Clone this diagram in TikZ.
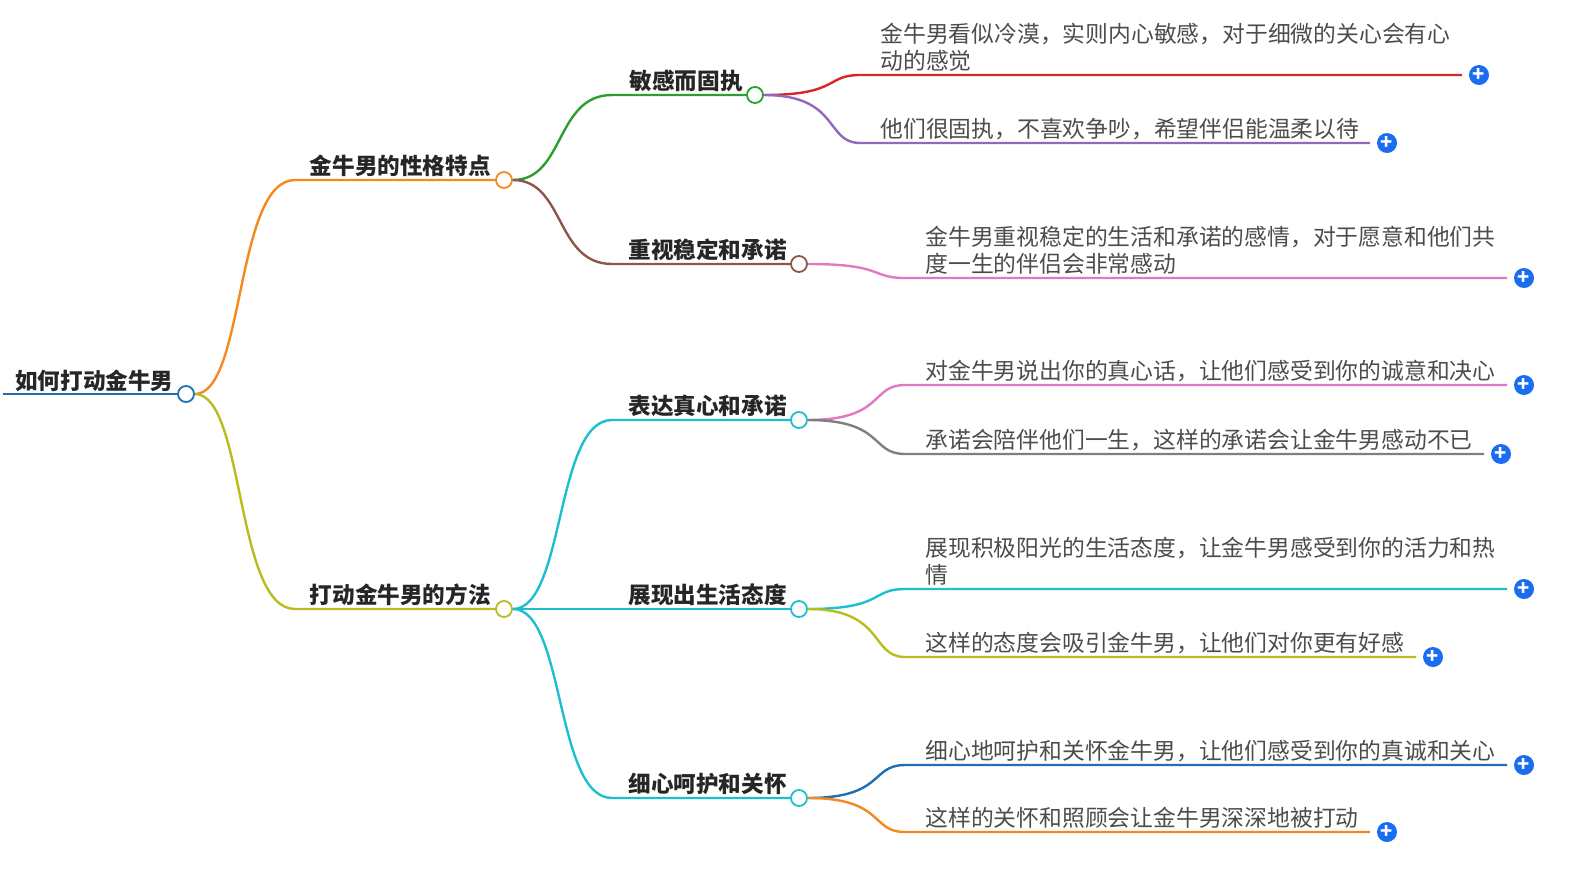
\documentclass[tikz,border=0pt]{standalone}
\usepackage{fontspec}
\setmainfont{Noto Sans CJK SC}
\definecolor{cRoot}{HTML}{1F6FB2}
\definecolor{cOrange}{HTML}{F5891F}
\definecolor{cOlive}{HTML}{B8BC1E}
\definecolor{cGreen}{HTML}{2CA02C}
\definecolor{cBrown}{HTML}{8C564B}
\definecolor{cCyan}{HTML}{1FBECF}
\definecolor{cRed}{HTML}{D62728}
\definecolor{cPurple}{HTML}{9467BD}
\definecolor{cPink}{HTML}{E377C2}
\definecolor{cGray}{HTML}{7F7F7F}
\definecolor{cPlus}{HTML}{1A6CF0}
\begin{document}
\begin{tikzpicture}[
	x=0.5pt, y=-0.5pt,
	branch/.style = {line width=1.2pt},
	knot/.style = {circle, draw, fill=white, line width=0.9pt, minimum size=8pt, inner sep=0pt},
	topic/.style = {font=\bfseries\fontsize{11.3}{13}\selectfont, text=black!85, inner sep=0pt, anchor=south east},
	leaf/.style = {font=\fontsize{11.4}{13.5}\selectfont, text=black!70, inner sep=0pt, anchor=south west, align=left},
	plus/.style = {circle, fill=cPlus, minimum size=10pt, inner sep=0pt, text=white, font=\bfseries\fontsize{10}{10}\selectfont},
]
	\useasboundingbox (0,0) rectangle (1584,868);

	% root
	\node (root) [knot, draw=cRoot] at (186,394) {};
	\coordinate (rootL) at (3,394);
	\node (rootT) [topic, anchor=south west] at (15,392) {如何打动金牛男};
	\draw[branch, cRoot] (rootL) -- (root);

	% first level
	\node (traits) [knot, draw=cOrange] at (504,180) {};
	\coordinate (traitsL) at (295,180);
	\node (traitsT) [topic] at (491,177) {金牛男的性格特点};
	\draw[branch, cOrange] (root) .. controls (245,394) and (235,180) .. (traitsL) -- (traits);

	\node (ways) [knot, draw=cOlive] at (504,609) {};
	\coordinate (waysL) at (295,609);
	\node (waysT) [topic] at (491,606) {打动金牛男的方法};
	\draw[branch, cOlive] (root) .. controls (245,394) and (235,609) .. (waysL) -- (ways);

	% second level
	\newcommand\topicnode[6]{%
		\node (#1) [knot, draw=#3] at (#4,#5) {};
		\coordinate (#1L) at (612,#5);
		\node (#1T) [topic] at (\numexpr#4-12\relax,\numexpr#5-3\relax) {#6};
		\draw[branch, #3] (#2) .. controls (565,\getY{#2}) and (555,#5) .. (#1L) -- (#1);
	}
	\def\getY#1{\csname y@#1\endcsname}
	\expandafter\def\csname y@traits\endcsname{180}
	\expandafter\def\csname y@ways\endcsname{609}

	\topicnode{sens}{traits}{cGreen}{755}{95}{敏感而固执}
	\topicnode{stab}{traits}{cBrown}{799}{264}{重视稳定和承诺}
	\topicnode{heart}{ways}{cCyan}{799}{420}{表达真心和承诺}
	\topicnode{life}{ways}{cCyan}{799}{609}{展现出生活态度}
	\topicnode{care}{ways}{cCyan}{799}{798}{细心呵护和关怀}

	% leaves
	\newcommand\leafnode[7]{%
		\coordinate (#1L) at (\numexpr#4+60\relax,#5);
		\coordinate (#1R) at (#6,#5);
		\node (#1T) [leaf] at (\numexpr#4+80\relax,\numexpr#5-3\relax) {#7};
		\node (#1P) [plus] at (\numexpr#6+17\relax,#5) {+};
		\draw[branch, #3] (#2) .. controls (\numexpr#4+40\relax,\getY{#2}) and (\numexpr#4+25\relax,#5) .. (#1L) -- (#1R);
	}
	\expandafter\def\csname y@sens\endcsname{95}
	\expandafter\def\csname y@stab\endcsname{264}
	\expandafter\def\csname y@heart\endcsname{420}
	\expandafter\def\csname y@life\endcsname{609}
	\expandafter\def\csname y@care\endcsname{798}

	\leafnode{a}{sens}{cRed}{800}{75}{1462}{金牛男看似冷漠，实则内心敏感，对于细微的关心会有心\\动的感觉}
	\leafnode{b}{sens}{cPurple}{800}{143}{1370}{他们很固执，不喜欢争吵，希望伴侣能温柔以待}
	\leafnode{c}{stab}{cPink}{845}{278}{1507}{金牛男重视稳定的生活和承诺的感情，对于愿意和他们共\\度一生的伴侣会非常感动}
	\leafnode{d}{heart}{cPink}{845}{385}{1507}{对金牛男说出你的真心话，让他们感受到你的诚意和决心}
	\leafnode{e}{heart}{cGray}{845}{454}{1484}{承诺会陪伴他们一生，这样的承诺会让金牛男感动不已}
	\leafnode{f}{life}{cCyan}{845}{589}{1507}{展现积极阳光的生活态度，让金牛男感受到你的活力和热\\情}
	\leafnode{g}{life}{cOlive}{845}{657}{1416}{这样的态度会吸引金牛男，让他们对你更有好感}
	\leafnode{h}{care}{cRoot}{845}{765}{1507}{细心地呵护和关怀金牛男，让他们感受到你的真诚和关心}
	\leafnode{i}{care}{cOrange}{845}{832}{1370}{这样的关怀和照顾会让金牛男深深地被打动}
\end{tikzpicture}
\end{document}
